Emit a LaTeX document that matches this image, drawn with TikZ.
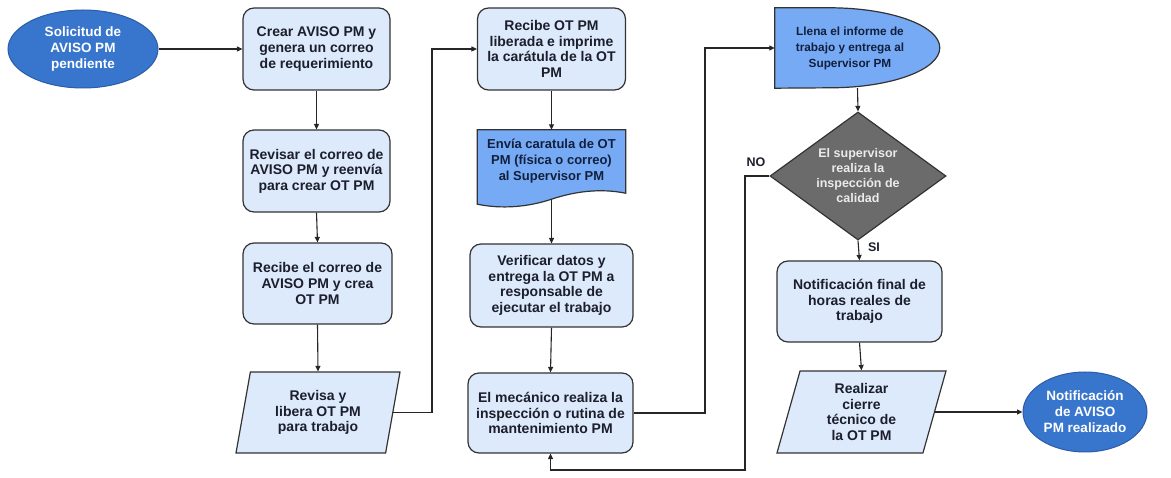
\documentclass[tikz,border=0pt]{standalone}
\usepackage{fontspec}
\setmainfont{Liberation Sans}
\usetikzlibrary{shapes.geometric,arrows.meta,calc}
\definecolor{paleblue}{HTML}{DDEAFB}
\definecolor{midblue}{HTML}{76AAF4}
\definecolor{deepblue}{HTML}{3876CE}
\definecolor{deepedge}{HTML}{2B5CA6}
\definecolor{greybox}{HTML}{6B6B6B}
\definecolor{edgegrey}{HTML}{333333}
\definecolor{inkdark}{HTML}{1C1E2C}
\definecolor{inknavy}{HTML}{12203E}
\pgfdeclarelayer{bg}
\pgfsetlayers{bg,main}
\begin{document}
\begin{tikzpicture}[x=1pt,y=-1pt,
  txt/.style={font=\bfseries\fontsize{14}{15.6}\selectfont, align=center, inner sep=0pt, text=inkdark},
  proc/.style={txt, draw=edgegrey, line width=1.2pt, fill=paleblue, rounded corners=11pt},
  term/.style={txt, ellipse, draw=deepedge, line width=1pt, fill=deepblue, text=white,
    font=\bfseries\fontsize{13.5}{16}\selectfont},
  slanted/.style={txt, trapezium, draw=edgegrey, line width=1.2pt, fill=paleblue,
    trapezium stretches body},
  shapebg/.style={draw=edgegrey, line width=1.2pt, fill=midblue},
  arr/.style={draw=black!85, line width=1.1pt, -{Triangle[length=5.5pt,width=5pt]}},
  tag/.style={font=\bfseries\fontsize{12.5}{14}\selectfont, text=inkdark, inner sep=0pt}]
\useasboundingbox (0,0) rectangle (1171,478);

% column 1: request and OT creation
\node[term, minimum width=150pt, minimum height=78pt] (s) at (83,49) {Solicitud de\\AVISO PM\\pendiente};
\node[proc, minimum width=147pt, minimum height=82pt] (b1) at (316.5,49) {Crear AVISO PM y\\genera un correo\\de requerimiento};
\node[proc, minimum width=147pt, minimum height=82pt] (b2) at (316.5,171) {Revisar el correo de\\AVISO PM y reenvía\\para crear OT PM};
\node[proc, minimum width=149pt, minimum height=81pt] (b3) at (317.5,283.5) {Recibe el correo de\\AVISO PM y crea\\OT PM};
\node[slanted, trapezium left angle=72, trapezium right angle=108,
  minimum width=164pt, minimum height=81pt] (p4) at (318,412.5) {Revisa y\\libera OT PM\\para trabajo};

% column 2: OT printing and execution
\node[proc, minimum width=148pt, minimum height=82pt] (b5) at (551.5,49) {Recibe OT PM\\liberada e imprime\\la carátula de la OT\\PM};
\node[txt, text=inknavy, font=\bfseries\fontsize{13}{16}\selectfont,
  minimum width=148pt, minimum height=63pt] (d6) at (551.5,161.5) {Envía caratula de OT\\PM (física o correo)\\al Supervisor PM};
\node[proc, minimum width=163pt, minimum height=83pt] (b7) at (551.5,285.5) {Verificar datos y\\entrega la OT PM a\\responsable de\\ejecutar el trabajo};
\node[proc, minimum width=165pt, minimum height=80pt] (b8) at (550.5,413) {El mecánico realiza la\\inspección o rutina de\\mantenimiento PM};

% column 3: report, inspection and closing
\node[minimum width=165pt, minimum height=80pt, inner sep=0pt] (d9) at (857.5,48) {};
\node[txt, text=inknavy, font=\bfseries\fontsize{11.8}{16}\selectfont] (d9t) at (850,48.5) {Llena el informe de\\trabajo y entrega al\\Supervisor PM};
\node[txt, diamond, shape aspect=1.375, draw=edgegrey, line width=1.2pt, fill=greybox,
  text=white!92!black, font=\bfseries\fontsize{12.5}{15}\selectfont,
  minimum width=176pt, minimum height=128pt] (dia) at (858,176) {El supervisor\\realiza la\\inspección de\\calidad};
\node[proc, minimum width=165pt, minimum height=81pt] (b10) at (859.5,301.5) {Notificación final de\\horas reales de\\trabajo};
\node[slanted, trapezium left angle=68, trapezium right angle=112,
  minimum width=169pt, minimum height=82pt] (p11) at (861.5,412) {Realizar\\cierre\\técnico de\\la OT PM};
\node[term, minimum width=124pt, minimum height=80pt] (e) at (1085,412) {Notificación\\de AVISO\\PM realizado};

% shapes drawn behind their labels
\begin{pgfonlayer}{bg}
  \path[shapebg] (d6.north west) -- (d6.north east) -- (d6.south east)
    .. controls ($(d6.south)+(49,-5)$) and ($(d6.south)+(24,-2)$) .. ($(d6.south)+(0,6)$)
    .. controls ($(d6.south)+(-24,14)$) and ($(d6.south)+(-50,16)$) .. ($(d6.south west)+(0,11)$)
    -- cycle;
  \path[shapebg] (d9.north west) -- ($(d9.north west)+(55,0)$)
    arc[start angle=90, end angle=-90, x radius=110pt, y radius=40pt]
    -- (d9.south west) -- cycle;
\end{pgfonlayer}

% bend points of the long connectors
\coordinate (j1) at (432,49);
\coordinate (j2) at (705,48);
\coordinate (j3) at (745,470);

% connectors
\draw[arr] (s.east) -- (b1.west);
\draw[arr] (b1.south) -- (b2.north);
\draw[arr] (b2.south) -- (b3.north);
\draw[arr] (b3.south) -- (p4.north);
\draw[arr] (p4.right side) -| (j1) -- (b5.west);
\draw[arr] (b5.south) -- (d6.north);
\draw[arr] ($(d6.south)+(0,6)$) -- (b7.north);
\draw[arr] (b7.south) -- (b8.north);
\draw[arr] (b8.east) -| (j2) -- (d9.west);
\draw[arr] (d9.south) -- (dia.north);
\draw[arr] (dia.south) -- (b10.north);
\draw[arr] (dia.west) -| (j3) -| (b8.south);
\draw[arr] (b10.south) -- (p11.north);
\draw[arr] (p11.right side) -- (e.west);

% branch labels
\node[tag] (no) at (756,162) {NO};
\node[tag] (si) at (874,247) {SI};
\end{tikzpicture}
\end{document}
